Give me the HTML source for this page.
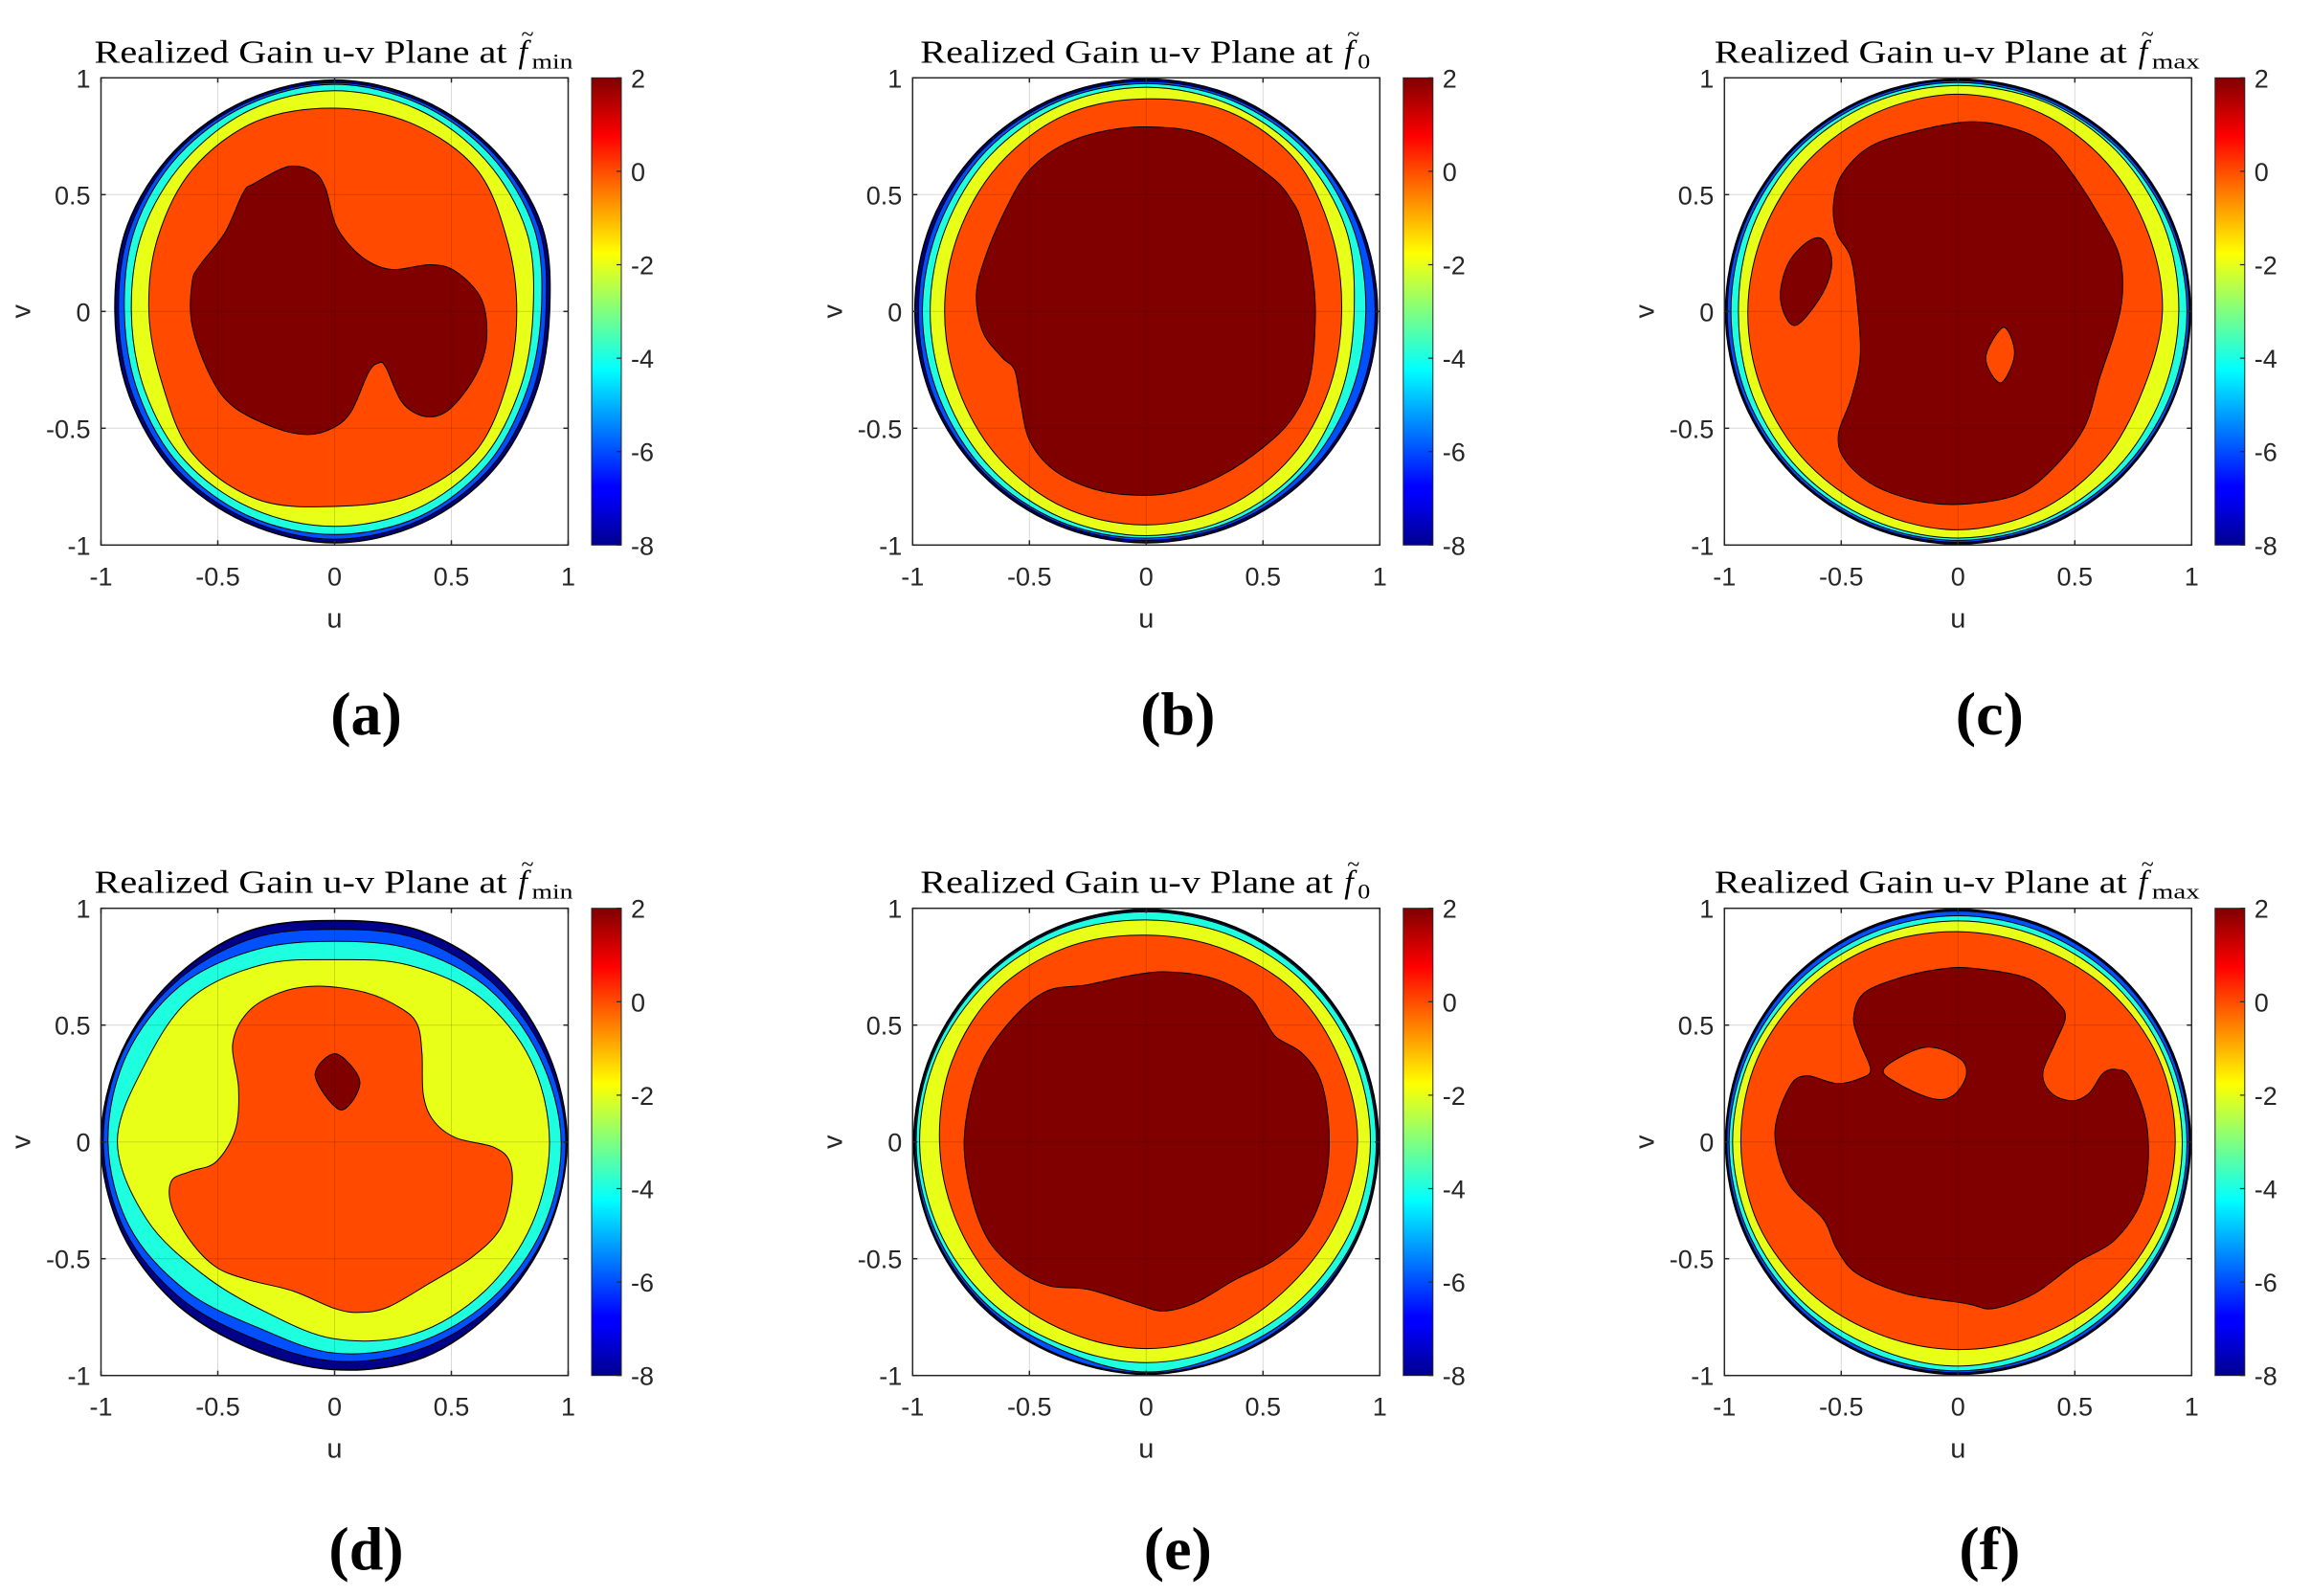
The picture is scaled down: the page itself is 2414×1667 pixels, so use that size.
<!DOCTYPE html>
<html><head><meta charset="utf-8"><style>
html,body{margin:0;padding:0;background:#fff}
svg{display:block}
</style></head><body>
<svg id="fig" width="2414" height="1667" viewBox="0 0 2414 1667" xmlns="http://www.w3.org/2000/svg">
<defs>
<linearGradient id="jet" x1="0" y1="1" x2="0" y2="0">
<stop offset="0" stop-color="#00008f"/><stop offset="0.11" stop-color="#0000ff"/>
<stop offset="0.125" stop-color="#0000ff"/><stop offset="0.375" stop-color="#00ffff"/>
<stop offset="0.625" stop-color="#ffff00"/><stop offset="0.875" stop-color="#ff0000"/>
<stop offset="1" stop-color="#800000"/></linearGradient>
</defs>
</svg>
<script>
// ring angles (deg) for polar contour radii
const angles = [0,22.5,45,67.5,90,112.5,135,157.5,180,202.5,225,247.5,270,292.5,315,337.5];
const tickVals = [-1,-0.5,0,0.5,1];
const tickLabels = ['-1','-0.5','0','0.5','1'];
const cbTickVals = [2,0,-2,-4,-6,-8];
const cbTickLabels = ['2','0','-2','-4','-6','-8'];
const panelLetters = ['(a)','(b)','(c)','(d)','(e)','(f)'];
const panelSubs = ['min','0','max','min','0','max'];

// Each ring array = radius where that colour band starts (outer edge of band)
// (a)
const aOuter = [0.92,0.96,0.97,0.98,0.99,0.98,0.97,0.96,0.94,0.95,0.97,0.98,0.99,0.98,0.96,0.93];
const aBlue = [0.905,0.945,0.96,0.97,0.98,0.97,0.96,0.945,0.925,0.935,0.955,0.965,0.975,0.965,0.945,0.915];
const aCyan = [0.885,0.925,0.945,0.96,0.972,0.96,0.945,0.925,0.90,0.91,0.935,0.95,0.955,0.95,0.925,0.89];
const aYellow = [0.85,0.89,0.915,0.935,0.945,0.935,0.91,0.89,0.87,0.88,0.905,0.915,0.92,0.915,0.895,0.86];
const aOrange = [0.78,0.80,0.86,0.87,0.87,0.88,0.86,0.82,0.795,0.80,0.86,0.87,0.835,0.85,0.85,0.80];
const aRed = [[-0.345,0.547],[-0.2,0.62],[-0.094,0.60],[-0.04,0.53],[0.01,0.36],[0.115,0.235],[0.24,0.18],[0.41,0.20],[0.52,0.17],[0.63,0.05],[0.65,-0.13],[0.60,-0.28],[0.49,-0.42],[0.39,-0.45],[0.29,-0.39],[0.22,-0.24],[0.19,-0.22],[0.146,-0.26],[0.07,-0.43],[-0.01,-0.5],[-0.115,-0.527],[-0.25,-0.50],[-0.43,-0.41],[-0.53,-0.28],[-0.61,-0.06],[-0.61,0.125],[-0.575,0.2],[-0.47,0.336],[-0.39,0.51]];

// (b)
const bOuter = [0.99,0.99,0.99,0.995,0.995,0.995,0.995,0.995,0.99,0.99,0.99,0.99,0.99,0.99,0.99,0.99];
const bBlue = [0.98,0.98,0.985,0.985,0.985,0.985,0.985,0.98,0.975,0.98,0.98,0.98,0.98,0.98,0.98,0.98];
const bCyan = [0.94,0.955,0.97,0.975,0.975,0.975,0.97,0.96,0.958,0.96,0.97,0.972,0.97,0.97,0.96,0.945];
const bYellow = [0.89,0.925,0.945,0.955,0.96,0.955,0.945,0.93,0.925,0.93,0.945,0.955,0.96,0.955,0.94,0.905];
const bOrange = [0.837,0.86,0.91,0.925,0.91,0.91,0.89,0.87,0.863,0.87,0.89,0.91,0.914,0.905,0.88,0.85];
const bRed = [[0,0.79],[0.257,0.753],[0.53,0.58],[0.626,0.47],[0.667,0.377],[0.708,0.186],[0.724,-0.02],[0.70,-0.29],[0.626,-0.456],[0.503,-0.58],[0.325,-0.70],[0.148,-0.77],[-0.044,-0.787],[-0.235,-0.757],[-0.40,-0.675],[-0.50,-0.55],[-0.538,-0.388],[-0.563,-0.251],[-0.617,-0.197],[-0.70,-0.087],[-0.727,0.077],[-0.686,0.24],[-0.604,0.432],[-0.508,0.596],[-0.372,0.705],[-0.208,0.766]];

// (c)
const cOuter = [0.995,0.995,0.995,0.995,0.995,0.995,0.995,0.995,0.995,0.995,0.995,0.995,0.995,0.995,0.995,0.995];
const cBlue = [0.99,0.988,0.988,0.988,0.988,0.988,0.988,0.988,0.988,0.988,0.988,0.988,0.988,0.988,0.988,0.99];
const cCyan = [0.98,0.978,0.977,0.978,0.98,0.978,0.977,0.975,0.972,0.975,0.977,0.978,0.98,0.978,0.977,0.978];
const cYellow = [0.945,0.955,0.965,0.97,0.967,0.965,0.96,0.95,0.94,0.95,0.96,0.965,0.97,0.965,0.955,0.945];
const cOrange = [0.875,0.88,0.9,0.92,0.93,0.92,0.91,0.9,0.9,0.905,0.915,0.925,0.935,0.92,0.89,0.86];
const cRed = [[0.034,0.811],[0.225,0.787],[0.376,0.719],[0.485,0.596],[0.608,0.404],[0.69,0.24],[0.704,0.077],[0.676,-0.074],[0.608,-0.279],[0.54,-0.497],[0.403,-0.675],[0.253,-0.784],[0.02,-0.825],[-0.171,-0.811],[-0.362,-0.743],[-0.485,-0.634],[-0.512,-0.525],[-0.458,-0.374],[-0.419,-0.197],[-0.43,0.022],[-0.458,0.227],[-0.519,0.336],[-0.533,0.459],[-0.499,0.582],[-0.389,0.698],[-0.225,0.76]];
const cIsland = [[-0.58,0.309],[-0.54,0.213],[-0.58,0.077],[-0.697,-0.06],[-0.76,0.049],[-0.73,0.199],[-0.648,0.295]];
const cHole = [[0.195,-0.068],[0.242,-0.183],[0.182,-0.306],[0.119,-0.197]];

// (d)
const dOuter = [0.995,0.99,0.99,0.976,0.947,0.975,0.98,0.99,1.0,0.99,0.97,0.955,0.975,0.998,0.99,0.99];
const dBlue = [0.99,0.975,0.96,0.94,0.91,0.94,0.965,0.985,0.99,0.975,0.94,0.91,0.938,0.96,0.975,0.985];
const dCyan = [0.97,0.95,0.93,0.89,0.858,0.89,0.94,0.965,0.97,0.95,0.9,0.86,0.904,0.93,0.95,0.965];
const dYellow = [0.92,0.91,0.877,0.82,0.78,0.82,0.87,0.877,0.93,0.87,0.8,0.785,0.843,0.89,0.906,0.915];
const dOrange = [[-0.07,0.667],[0.135,0.639],[0.286,0.571],[0.354,0.503],[0.374,0.38],[0.38,0.202],[0.422,0.093],[0.518,0.018],[0.682,-0.023],[0.75,-0.085],[0.757,-0.208],[0.709,-0.372],[0.586,-0.495],[0.408,-0.604],[0.231,-0.706],[0.108,-0.73],[0,-0.713],[-0.179,-0.638],[-0.37,-0.59],[-0.507,-0.536],[-0.616,-0.426],[-0.698,-0.276],[-0.698,-0.167],[-0.616,-0.126],[-0.507,-0.085],[-0.425,0.052],[-0.411,0.23],[-0.436,0.421],[-0.37,0.557],[-0.234,0.639]];
const dRed = [[0.005,0.377],[0.108,0.257],[0.026,0.137],[-0.083,0.284]];

// (e)
const eOuter = [0.995,0.995,0.995,0.995,0.995,0.995,0.995,0.995,0.995,0.995,0.995,0.99,0.995,0.99,0.995,0.995];
const eBlue = [0.99,0.99,0.99,0.99,0.99,0.99,0.99,0.99,0.99,0.99,0.985,0.985,0.99,0.985,0.985,0.99];
const eCyan = [0.985,0.985,0.985,0.985,0.985,0.985,0.985,0.985,0.985,0.98,0.975,0.962,0.985,0.968,0.975,0.985];
const eYellow = [0.96,0.96,0.96,0.955,0.95,0.96,0.965,0.97,0.97,0.965,0.955,0.94,0.945,0.94,0.945,0.955];
const eOrange = [0.905,0.9,0.905,0.89,0.885,0.9,0.91,0.9,0.885,0.88,0.885,0.88,0.885,0.88,0.87,0.885];
const eRed = [[0.093,0.728],[0.284,0.701],[0.434,0.626],[0.503,0.53],[0.557,0.448],[0.667,0.38],[0.749,0.257],[0.783,0.038],[0.762,-0.194],[0.68,-0.385],[0.544,-0.508],[0.38,-0.59],[0.216,-0.686],[0.079,-0.724],[-0.03,-0.699],[-0.249,-0.631],[-0.413,-0.617],[-0.549,-0.549],[-0.672,-0.426],[-0.747,-0.235],[-0.779,0.011],[-0.727,0.284],[-0.617,0.475],[-0.44,0.639],[-0.249,0.673],[-0.057,0.714]];

// (f)
const fOuter = [0.995,0.995,0.995,0.995,0.995,0.995,0.995,0.995,0.995,0.995,0.995,0.995,0.995,0.995,0.995,0.995];
const fBlue = [0.99,0.988,0.988,0.988,0.988,0.988,0.988,0.988,0.99,0.988,0.988,0.988,0.988,0.988,0.988,0.988];
const fCyan = [0.98,0.975,0.97,0.968,0.968,0.968,0.97,0.975,0.98,0.978,0.975,0.975,0.98,0.975,0.975,0.98];
const fYellow = [0.96,0.955,0.95,0.945,0.946,0.945,0.95,0.96,0.965,0.96,0.955,0.95,0.96,0.95,0.95,0.96];
const fOrange = [0.93,0.93,0.915,0.9,0.9,0.91,0.92,0.93,0.93,0.925,0.905,0.89,0.889,0.895,0.91,0.925];
const fRed = [[0.064,0.743],[0.298,0.70],[0.43,0.593],[0.459,0.529],[0.415,0.422],[0.363,0.293],[0.401,0.208],[0.488,0.176],[0.561,0.208],[0.62,0.293],[0.678,0.31],[0.737,0.272],[0.81,0.058],[0.795,-0.221],[0.678,-0.413],[0.503,-0.52],[0.327,-0.649],[0.152,-0.713],[0.035,-0.692],[-0.228,-0.649],[-0.433,-0.563],[-0.52,-0.456],[-0.579,-0.328],[-0.725,-0.178],[-0.784,0.036],[-0.725,0.229],[-0.652,0.283],[-0.52,0.25],[-0.418,0.272],[-0.374,0.31],[-0.418,0.422],[-0.447,0.529],[-0.404,0.636],[-0.257,0.70],[-0.082,0.739]];
const fHole = [[-0.316,0.315],[-0.14,0.405],[0.006,0.358],[0.035,0.283],[-0.023,0.197],[-0.111,0.186],[-0.257,0.25]];

const COL = {navy:'#00008a', blue:'#0050ff', cyan:'#1effe0', yellow:'#e8ff17', orange:'#ff4a00', red:'#800000'};
const NS = 'http://www.w3.org/2000/svg';
const svg = document.getElementById('fig');
const S = 244;
const CX = [349.5, 1197.3, 2045.3];
const CY = [325.3, 1192.7];

function el(tag, attrs, parent){ const e=document.createElementNS(NS,tag); for(const k in attrs) e.setAttribute(k,attrs[k]); (parent||svg).appendChild(e); return e; }
function polarPts(radii){ return radii.map((r,i)=>{const t=angles[i]*Math.PI/180; return [r*Math.cos(t), r*Math.sin(t)];}); }
function smoothPath(pts, X, Y){
  const n=pts.length; const P=pts.map(p=>[X(p[0]),Y(p[1])]);
  let d='M'+P[0][0].toFixed(1)+','+P[0][1].toFixed(1);
  for(let i=0;i<n;i++){
    const p0=P[(i-1+n)%n],p1=P[i],p2=P[(i+1)%n],p3=P[(i+2)%n];
    const c1=[p1[0]+(p2[0]-p0[0])/6,p1[1]+(p2[1]-p0[1])/6];
    const c2=[p2[0]-(p3[0]-p1[0])/6,p2[1]-(p3[1]-p1[1])/6];
    d+='C'+c1[0].toFixed(1)+','+c1[1].toFixed(1)+' '+c2[0].toFixed(1)+','+c2[1].toFixed(1)+' '+p2[0].toFixed(1)+','+p2[1].toFixed(1);
  }
  return d+'Z';
}
function rings(o,b,c,y,or){
  const L=[['outer-contour',polarPts(o),COL.navy],['contour-m6',polarPts(b),COL.blue],['contour-m4',polarPts(c),COL.cyan],['contour-m2',polarPts(y),COL.yellow]];
  if(or) L.push(['contour-0',polarPts(or),COL.orange]);
  return L;
}
const panels = [
  rings(aOuter,aBlue,aCyan,aYellow,aOrange).concat([['contour-2',aRed,COL.red]]),
  rings(bOuter,bBlue,bCyan,bYellow,bOrange).concat([['contour-2',bRed,COL.red]]),
  rings(cOuter,cBlue,cCyan,cYellow,cOrange).concat([['contour-2',cRed,COL.red],['contour-2-island',cIsland,COL.red],['contour-0-hole',cHole,COL.orange]]),
  rings(dOuter,dBlue,dCyan,dYellow,null).concat([['contour-0',dOrange,COL.orange],['contour-2',dRed,COL.red]]),
  rings(eOuter,eBlue,eCyan,eYellow,eOrange).concat([['contour-2',eRed,COL.red]]),
  rings(fOuter,fBlue,fCyan,fYellow,fOrange).concat([['contour-2',fRed,COL.red],['contour-0-hole',fHole,COL.orange]])
];

panels.forEach((layers,idx)=>{
  const col=idx%3,row=Math.floor(idx/3);
  const cx=CX[col],cy=CY[row];
  const X=u=>cx+u*S, Y=v=>cy-v*S;
  const g=el('g',{});
  
  
  el('rect',{x:X(-1),y:Y(1),width:2*S,height:2*S,fill:'#fff'},g);
  layers.forEach(L=>{
    const path=el('path',{d:smoothPath(L[1],X,Y),fill:L[2],stroke:'#000','stroke-width':L[0]==='outer-contour'?1.6:1},g);
    
    
  });
  tickVals.forEach(t=>{
    if(t===-1||t===1) return;
    el('line',{x1:X(t),y1:Y(-1),x2:X(t),y2:Y(1),stroke:'rgba(0,0,0,0.15)','stroke-width':1},g);
    el('line',{x1:X(-1),y1:Y(t),x2:X(1),y2:Y(t),stroke:'rgba(0,0,0,0.15)','stroke-width':1},g);
  });
  const box=el('rect',{x:X(-1),y:Y(1),width:2*S,height:2*S,fill:'none',stroke:'#262626','stroke-width':1.5},g);
  
  
  tickVals.forEach((t,i)=>{
    el('line',{x1:X(t),y1:Y(-1),x2:X(t),y2:Y(-1)-5,stroke:'#262626','stroke-width':1.5},g);
    el('line',{x1:X(t),y1:Y(1),x2:X(t),y2:Y(1)+5,stroke:'#262626','stroke-width':1.5},g);
    el('line',{x1:X(-1),y1:Y(t),x2:X(-1)+5,y2:Y(t),stroke:'#262626','stroke-width':1.5},g);
    el('line',{x1:X(1),y1:Y(t),x2:X(1)-5,y2:Y(t),stroke:'#262626','stroke-width':1.5},g);
    const xl=el('text',{x:X(t),y:Y(-1)+42,'text-anchor':'middle','font-family':'Liberation Sans, sans-serif','font-size':27,fill:'#262626'},g);
    xl.textContent=tickLabels[i];
    
    
    const yl=el('text',{x:X(-1)-11,y:Y(t)+10,'text-anchor':'end','font-family':'Liberation Sans, sans-serif','font-size':27,fill:'#262626'},g);
    yl.textContent=tickLabels[i];
    
    
  });
  const xt=el('text',{x:cx,y:Y(-1)+86,'text-anchor':'middle','font-family':'Liberation Sans, sans-serif','font-size':29,fill:'#262626'},g);
  xt.textContent='u';
  
  
  const yt=el('text',{x:0,y:0,'text-anchor':'middle','font-family':'Liberation Sans, sans-serif','font-size':29,fill:'#262626',transform:'translate('+(X(-1)-74)+','+cy+') rotate(-90)'},g);
  yt.textContent='v';
  
  
  // title
  const sub=panelSubs[idx];
  const subW = sub==='min'?43:(sub==='max'?50:13);
  const mainW=431, total=mainW+28+subW;
  const tx=cx-total/2, ty=Y(1)-16;
  const tg=el('g',{},g);
  
  
  const t1=el('text',{x:tx,y:ty,'font-family':'Liberation Serif, serif','font-size':34,fill:'#000',textLength:mainW,lengthAdjust:'spacingAndGlyphs'},tg);
  t1.textContent='Realized Gain u-v Plane at';
  const t2=el('text',{x:tx+mainW+12,y:ty,'font-family':'Liberation Serif, serif','font-style':'italic','font-size':34,fill:'#000'},tg);
  t2.textContent='f';
  const t3=el('text',{x:tx+mainW+15,y:ty-22,'font-family':'Liberation Serif, serif','font-size':24,fill:'#000'},tg);
  t3.textContent='~';
  const t4=el('text',{x:tx+mainW+26,y:ty+6,'font-family':'Liberation Serif, serif','font-size':22,fill:'#000',textLength:subW,lengthAdjust:'spacingAndGlyphs'},tg);
  t4.textContent=sub;
  // colorbar
  const cbx=X(1)+24.5, cby=Y(1), cbh=2*S, cbw=31;
  const cb=el('rect',{x:cbx,y:cby,width:cbw,height:cbh,fill:'url(#jet)',stroke:'#262626','stroke-width':1},g);
  
  
  cbTickVals.forEach((v,i)=>{
    const yy=cby+(2-v)/10*cbh;
    el('line',{x1:cbx+cbw-5,y1:yy,x2:cbx+cbw,y2:yy,stroke:'#262626','stroke-width':1.2},g);
    const l=el('text',{x:cbx+cbw+10,y:yy+10,'font-family':'Liberation Sans, sans-serif','font-size':27,fill:'#262626'},g);
    l.textContent=cbTickLabels[i];
    
    
  });
  const pl=el('text',{x:cx+33,y:row===0?767:1639,'text-anchor':'middle','font-family':'Liberation Serif, serif','font-weight':'bold','font-size':64,fill:'#000'},g);
  pl.textContent=panelLetters[idx];
  
  
});
</script>
</body></html>
